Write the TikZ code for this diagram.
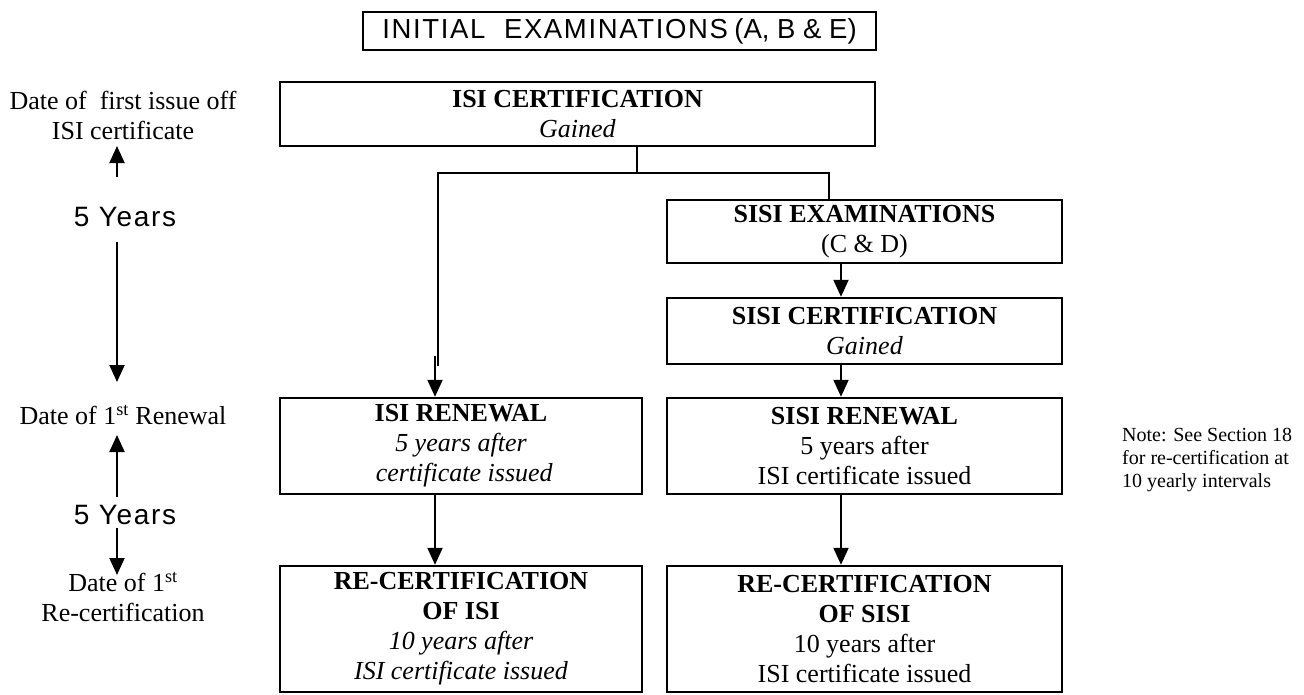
\documentclass[tikz,border=0pt]{standalone}
\usepackage{fontspec}
\setmainfont{Liberation Serif}
\newfontfamily\headfont{Liberation Sans}
\usetikzlibrary{arrows.meta}

\newcommand\diagfont{\fontsize{26}{30}\selectfont}
\newcommand\yearsfont{\headfont\fontsize{28}{32}\selectfont\addfontfeature{LetterSpace=6}}
\newcommand\notefont{\fontsize{20}{23}\selectfont}

\begin{document}
\begin{tikzpicture}[
x=1pt, y=-1pt,
>={Triangle[width=15pt,length=17pt]},
every node/.style={font=\diagfont},
box/.style={draw, line width=2.4pt, align=center, inner sep=0pt},
link/.style={line width=2pt},
arrow/.style={->, line width=2pt},
datelabel/.style={align=center, inner sep=0pt},
yearslabel/.style={inner sep=0pt, font=\yearsfont},
notelabel/.style={align=left, inner sep=0pt, anchor=north west, font=\notefont}
]

\useasboundingbox (0,0) rectangle (1304,694);

% =====================================================
% Boxes
% =====================================================

\node[box, minimum width=513pt, minimum height=38pt] (initial) at (619.5,31)
{{\headfont\fontsize{27.5}{31}\selectfont\addfontfeature{LetterSpace=6}INITIAL\ \ EXAMINATIONS} {\headfont\fontsize{27.5}{31}\selectfont(A, B \& E)}};

\node[box, minimum width=595pt, minimum height=64pt] (isicert) at (577.5,114)
{\textbf{ISI CERTIFICATION}\\\textit{Gained}};

\node[box, minimum width=395pt, minimum height=63pt] (sisiexam) at (864.5,231.5)
{\textbf{SISI EXAMINATIONS}\\(C \& D)};

\node[box, minimum width=395pt, minimum height=66pt] (sisicert) at (864.5,331)
{\textbf{SISI CERTIFICATION}\\\textit{Gained}};

\node[box, minimum width=362pt, minimum height=96pt] (isiren) at (461,446)
{\textbf{ISI RENEWAL}\\\textit{5 years after}\\\textit{\ certificate issued}};

\node[box, minimum width=395pt, minimum height=96pt] (sisiren) at (864.5,446)
{\textbf{SISI RENEWAL}\\5 years after\\ISI certificate issued};

\node[box, minimum width=362pt, minimum height=126pt] (recisi) at (461,629)
{\textbf{RE-CERTIFICATION}\\\textbf{OF ISI}\\\textit{10 years after}\\\textit{ISI certificate issued}};

\node[box, minimum width=395pt, minimum height=126pt] (recsisi) at (864.5,629)
{\textbf{RE-CERTIFICATION}\\\textbf{OF SISI}\\10 years after\\ISI certificate issued};

% =====================================================
% Connectors
% =====================================================

\coordinate (split) at (637,173);
\coordinate (lbend) at (438,173);
\coordinate (rbend) at (829,173);
\coordinate (lend) at (438,366);
\coordinate (lcol) at (435,356);
\coordinate (rcol) at (841,0);

\draw[link] (isicert.south -| split) -- (split);
\draw[link] (lend) -- (lbend) -- (rbend) -- (sisiexam.north -| rbend);
\draw[arrow] (lcol) -- (isiren.north -| lcol);
\draw[arrow] (isiren.south -| lcol) -- (recisi.north -| lcol);

\draw[arrow] (sisiexam.south -| rcol) -- (sisicert.north -| rcol);
\draw[arrow] (sisicert.south -| rcol) -- (sisiren.north -| rcol);
\draw[arrow] (sisiren.south -| rcol) -- (recsisi.north -| rcol);

% =====================================================
% Time line on the left
% =====================================================

\node[datelabel] (firstissue) at (123,115) {Date of\ \ first issue off\\ISI certificate};
\node[yearslabel] (years1) at (125,217) {5 Years};
\node[datelabel] (renewal1) at (123,415) {Date of 1\textsuperscript{st} Renewal};
\node[yearslabel] (years2) at (125,515) {5 Years};
\node[datelabel] (recert1) at (123,597) {Date of 1\textsuperscript{st}\\Re-certification};

\coordinate (t1a) at (117,177);
\coordinate (t1b) at (117,146);
\coordinate (t2a) at (117,242);
\coordinate (t2b) at (117,382);
\coordinate (t3a) at (117,497);
\coordinate (t3b) at (117,435);
\coordinate (t4a) at (117,528);
\coordinate (t4b) at (117,575);

\draw[arrow] (t1a) -- (t1b);
\draw[arrow] (t2a) -- (t2b);
\draw[arrow] (t3a) -- (t3b);
\draw[arrow] (t4a) -- (t4b);

% Note
\node[notelabel] (note) at (1122,428) {Note: See Section 18\\for re-certification at\\10 yearly intervals};

\end{tikzpicture}
\end{document}
